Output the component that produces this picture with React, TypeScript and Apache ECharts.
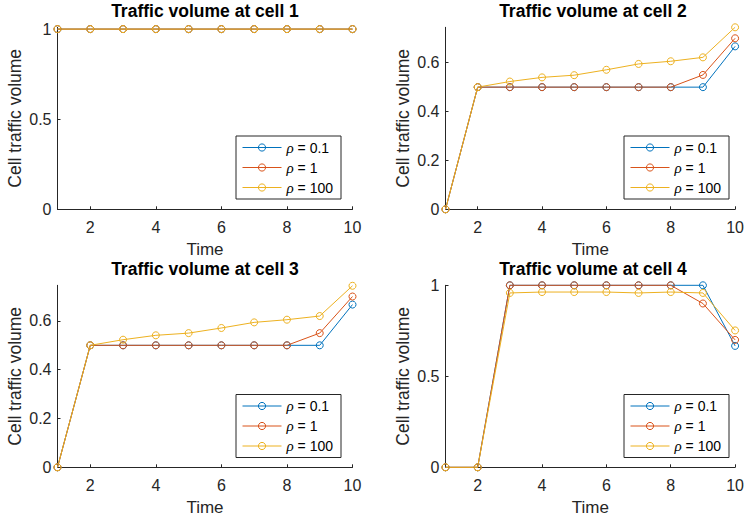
import React, { useEffect, useRef } from 'react';
import * as echarts from 'echarts';

const FONT = '"Liberation Sans", Helvetica, Arial, sans-serif';
const COLORS = ['#0072BD', '#D95319', '#EDB120'];

const TIME = [1, 2, 3, 4, 5, 6, 7, 8, 9, 10];
const RHO_NAMES = ['ρ = 0.1', 'ρ = 1', 'ρ = 100'];
const CELL_TITLES = [
  'Traffic volume at cell 1',
  'Traffic volume at cell 2',
  'Traffic volume at cell 3',
  'Traffic volume at cell 4',
];

const CELL1_RHO_01 = [1, 1, 1, 1, 1, 1, 1, 1, 1, 1];
const CELL1_RHO_1 = [1, 1, 1, 1, 1, 1, 1, 1, 1, 1];
const CELL1_RHO_100 = [1, 1, 1, 1, 1, 1, 1, 1, 1, 1];

const CELL2_RHO_01 = [0, 0.5, 0.5, 0.5, 0.5, 0.5, 0.5, 0.5, 0.5, 0.667];
const CELL2_RHO_1 = [0, 0.5, 0.5, 0.5, 0.5, 0.5, 0.5, 0.5, 0.55, 0.7];
const CELL2_RHO_100 = [0, 0.5, 0.523, 0.54, 0.549, 0.571, 0.595, 0.606, 0.622, 0.745];

const CELL3_RHO_01 = [0, 0.5, 0.5, 0.5, 0.5, 0.5, 0.5, 0.5, 0.5, 0.667];
const CELL3_RHO_1 = [0, 0.5, 0.5, 0.5, 0.5, 0.5, 0.5, 0.5, 0.55, 0.7];
const CELL3_RHO_100 = [0, 0.5, 0.523, 0.541, 0.55, 0.571, 0.594, 0.605, 0.62, 0.744];

const CELL4_RHO_01 = [0, 0, 1, 1, 1, 1, 1, 1, 1, 0.667];
const CELL4_RHO_1 = [0, 0, 1, 1, 1, 1, 1, 1, 0.9, 0.7];
const CELL4_RHO_100 = [0, 0, 0.958, 0.963, 0.963, 0.963, 0.958, 0.963, 0.958, 0.752];

const X_TICKS = [2, 4, 6, 8, 10];
const Y_TICKS_HALF = [0, 0.5, 1];
const Y_TICKS_FIFTH = [0, 0.2, 0.4, 0.6];

const CELL_SERIES = [
  [CELL1_RHO_01, CELL1_RHO_1, CELL1_RHO_100],
  [CELL2_RHO_01, CELL2_RHO_1, CELL2_RHO_100],
  [CELL3_RHO_01, CELL3_RHO_1, CELL3_RHO_100],
  [CELL4_RHO_01, CELL4_RHO_1, CELL4_RHO_100],
];
const Y_MAX = [1.01, 0.745, 0.746, 1];
const Y_TICKS = [Y_TICKS_HALF, Y_TICKS_FIFTH, Y_TICKS_FIFTH, Y_TICKS_HALF];

// layout (pixels)
const GRID_LEFT = [57.5, 445.5, 57.5, 445.5];
const GRID_TOP = [27.3, 27.3, 285.3, 285.3];
const GRID_W = 295;
const GRID_H = 182;
const TITLE_TOP = [2, 2, 260, 260];
const LEGEND_LEFT = [236, 624, 236, 624];
const LEGEND_TOP = [136, 136, 394.5, 394.5];

export default function App() {
  const ref = useRef<HTMLDivElement>(null);
  useEffect(() => {
    if (!ref.current) return;
    const chart = echarts.init(ref.current, undefined, { renderer: 'svg' });
    const axisColor = '#262626';
    const option: any = {
      animation: false,
      textStyle: { fontFamily: FONT },
      title: CELL_TITLES.map((t, i) => ({
        text: t,
        left: GRID_LEFT[i] + GRID_W / 2,
        top: TITLE_TOP[i],
        textAlign: 'center',
        padding: 0,
        textStyle: { fontSize: 17.5, fontWeight: 'bold', color: '#000', fontFamily: FONT },
      })),
      grid: CELL_TITLES.map((_, i) => ({
        left: GRID_LEFT[i],
        top: GRID_TOP[i],
        width: GRID_W,
        height: GRID_H,
        containLabel: false,
      })),
      xAxis: CELL_TITLES.map((_, i) => ({
        type: 'value',
        gridIndex: i,
        min: 1,
        max: 10,
        interval: 1,
        name: 'Time',
        nameLocation: 'middle',
        nameGap: 32,
        nameTextStyle: { fontSize: 17, color: axisColor, fontFamily: FONT },
        axisLine: { show: true, lineStyle: { color: axisColor, width: 1 } },
        axisTick: { show: true, inside: true, length: 3, customValues: X_TICKS, lineStyle: { color: axisColor } },
        axisLabel: { customValues: X_TICKS, fontSize: 16, color: axisColor, margin: 10, fontFamily: FONT },
        splitLine: { show: false },
      })),
      yAxis: CELL_TITLES.map((_, i) => ({
        type: 'value',
        gridIndex: i,
        min: 0,
        max: Y_MAX[i],
        name: 'Cell traffic volume',
        nameLocation: 'middle',
        nameGap: 34,
        nameTextStyle: { fontSize: 17.5, color: axisColor, fontFamily: FONT },
        axisLine: { show: true, lineStyle: { color: axisColor, width: 1 } },
        axisTick: { show: true, inside: true, length: 3, customValues: Y_TICKS[i], lineStyle: { color: axisColor } },
        axisLabel: { customValues: Y_TICKS[i], fontSize: 16, color: axisColor, margin: 6, fontFamily: FONT },
        splitLine: { show: false },
      })),
      legend: CELL_TITLES.map((_, i) => ({
        data: RHO_NAMES,
        orient: 'vertical',
        left: LEGEND_LEFT[i],
        top: LEGEND_TOP[i],
        padding: [4, 8, 4, 6],
        itemGap: 5,
        itemWidth: 39,
        itemHeight: 9,
        borderColor: axisColor,
        borderWidth: 1,
        borderRadius: 0,
        backgroundColor: '#fff',
        selectedMode: false,
        lineStyle: { width: 1 },
        itemStyle: { borderWidth: 1 },
        formatter: (n: string) => n.replace('ρ', '{i|ρ}'),
        textStyle: {
          fontSize: 14,
          color: '#000',
          fontFamily: FONT,
          rich: {
            i: { fontStyle: 'italic', fontFamily: '"Liberation Serif", serif', fontSize: 15, color: '#000' },
          },
        },
      })),
      series: CELL_SERIES.flatMap((group, i) =>
        group.map((vals, s) => ({
          type: 'line',
          name: RHO_NAMES[s],
          xAxisIndex: i,
          yAxisIndex: i,
          clip: false,
          symbol: 'circle',
          symbolSize: 7,
          showSymbol: true,
          data: TIME.map((t, k) => [t, vals[k]]),
          lineStyle: { color: COLORS[s], width: 1 },
          itemStyle: { color: 'rgba(255,255,255,0)', borderColor: COLORS[s], borderWidth: 1 },
          emphasis: { disabled: true },
        }))
      ),
    };
    chart.setOption(option);
    return () => chart.dispose();
  }, []);
  return <div ref={ref} style={{ position: 'absolute', left: 0, top: 0, width: 747, height: 520, background: '#fff' }} />;
}
